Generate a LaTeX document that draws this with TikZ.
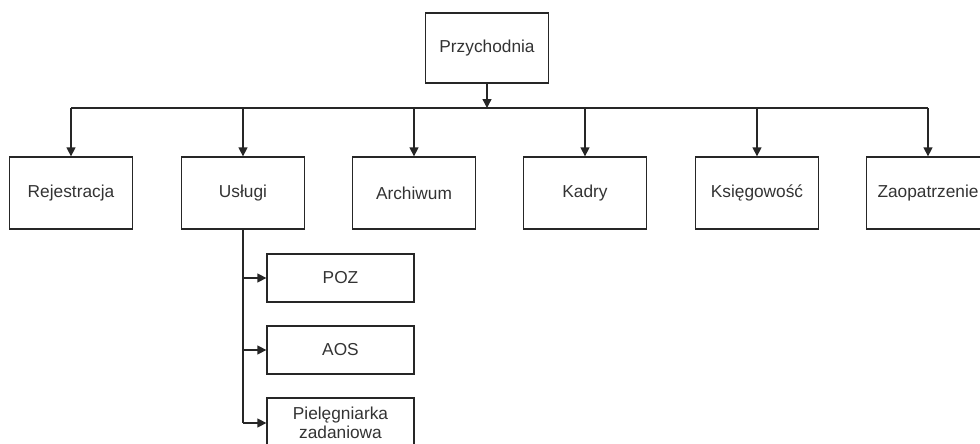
\documentclass[tikz,border=0pt]{standalone}
\usepackage{fontspec}
\setmainfont{Liberation Sans}
\usetikzlibrary{arrows.meta}
\begin{document}
\begin{tikzpicture}[x=1pt,y=-1pt,
  box/.style={draw=black!85, line width=1.3pt, minimum width=123pt, minimum height=72pt, inner sep=0pt, align=center, font=\fontsize{17.3}{20}\selectfont, text=black!80},
  sub/.style={draw=black!85, line width=1.3pt, minimum width=147pt, minimum height=48pt, inner sep=0pt, align=center, font=\fontsize{17.3}{20}\selectfont, text=black!80},
  conn/.style={line width=1.4pt, draw=black!85},
  arr/.style={conn, -{Triangle[length=9pt,width=9pt]}}]
\useasboundingbox (0,0) rectangle (980,444);
\node[box, minimum height=70pt] (prz) at (487,48) {Przychodnia};
\coordinate (bus) at (487,108);
\node[box] (rej) at (71,193) {Rejestracja};
\node[box] (usl) at (243,193) {Usługi};
\node[box] (arc) at (414,193) {Archiwum};
\node[box] (kad) at (585,193) {Kadry};
\node[box] (ksi) at (757,193) {Księgowość};
\node[box] (zao) at (928,193) {Zaopatrzenie};
\node[sub] (poz) at (340.5,278) {POZ};
\node[sub] (aos) at (340.5,350) {AOS};
\node[sub, minimum height=50pt, font=\fontsize{17.3}{19.5}\selectfont] (pie) at (340.5,423) {Pielęgniarka\\zadaniowa};
\draw[arr] (prz.south) -- (bus);
\draw[conn] (rej.north |- bus) -- (zao.north |- bus);
\foreach \n in {rej,usl,arc,kad,ksi,zao}{
  \draw[arr] (\n.north |- bus) -- (\n.north);
}
\draw[conn] (usl.south) -- (usl.south |- pie.west);
\foreach \n in {poz,aos,pie}{
  \draw[arr] (usl.south |- \n.west) -- (\n.west);
}
\end{tikzpicture}
\end{document}
